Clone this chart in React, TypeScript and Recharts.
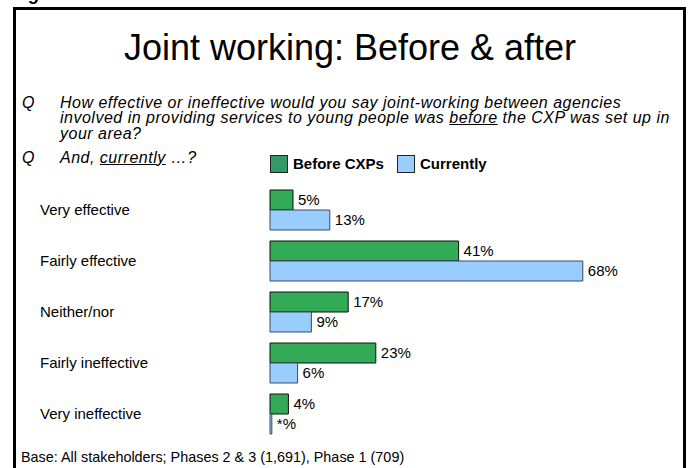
import { BarChart, Bar, XAxis, YAxis, LabelList } from 'recharts'

const categories = ['Very effective', 'Fairly effective', 'Neither/nor', 'Fairly ineffective', 'Very ineffective']
const beforeValues = [5, 41, 17, 23, 4]
// last "currently" value is shown as "*%" (less than 0.5%)
const currentValues = [13, 68, 9, 6, 0.4]
const seriesNames = ['Before CXPs', 'Currently']

const data = categories.map((name, i) => ({ name, before: beforeValues[i], current: currentValues[i] }))

const FONT = '"Liberation Sans", Arial, sans-serif'
const GREEN = '#33aa55'
const GREEN_KEY = '#339966'
const BLUE = '#99ccff'

const pct = (v: any) => (Number(v) < 1 ? '*%' : `${v}%`)

const qStyle = {
  position: 'absolute' as const,
  fontSize: 16,
  lineHeight: '15.5px',
  letterSpacing: '0.5px',
  fontStyle: 'italic',
  whiteSpace: 'nowrap' as const,
}

function CatTick({ y, payload }: any) {
  return (
    <text x={40} y={y} dy={5} fontSize={15} fontFamily={FONT} fill="#000" textAnchor="start">
      {payload.value}
    </text>
  )
}

function Key({ color, label, left }: { color: string; label: string; left: number }) {
  return (
    <div style={{ position: 'absolute', left, top: 155, display: 'flex', alignItems: 'center' }}>
      <div style={{ width: 16, height: 16, background: color, border: '1px solid #222' }} />
      <span style={{ marginLeft: 5, fontSize: 15, fontWeight: 'bold', lineHeight: '18px' }}>{label}</span>
    </div>
  )
}

export default function App() {
  return (
    <div
      style={{
        position: 'absolute', left: 0, top: 0, width: 690, height: 468,
        overflow: 'hidden', background: '#fff', fontFamily: FONT, color: '#000',
      }}
    >
      <div style={{ position: 'absolute', left: 13, top: -16, fontSize: 18, fontWeight: 'bold', fontStyle: 'italic' }}>
        Figure 6
      </div>
      <div style={{ position: 'absolute', left: 13, top: 7, width: 667, height: 500, border: '3px solid #000' }} />

      <div style={{ position: 'absolute', left: 0, width: 700, top: 29.5, textAlign: 'center', fontSize: 36, lineHeight: '36px' }}>
        Joint working: Before &amp; after
      </div>

      <div style={{ ...qStyle, left: 22, top: 94.7 }}>Q</div>
      <div style={{ ...qStyle, left: 60, top: 94.7 }}>
        How effective or ineffective would you say joint-working between agencies<br />
        involved in providing services to young people was <u>before</u> the CXP was set up in<br />
        your area?
      </div>
      <div style={{ ...qStyle, left: 22, top: 149.7 }}>Q</div>
      <div style={{ ...qStyle, left: 60, top: 149.7 }}>
        And, <u>currently</u> …?
      </div>

      <Key color={GREEN_KEY} label={seriesNames[0]} left={270} />
      <Key color={BLUE} label={seriesNames[1]} left={397} />

      <div style={{ position: 'absolute', left: 0, top: 140 }}>
        <BarChart
          width={690}
          height={320}
          data={data}
          layout="vertical"
          margin={{ top: 44, right: 6, bottom: 21, left: 0 }}
          barGap={0}
          barSize={20}
        >
          <XAxis type="number" domain={[0, 90]} hide />
          <YAxis
            type="category"
            dataKey="name"
            width={270}
            axisLine={false}
            tickLine={false}
            interval={0}
            tick={<CatTick />}
          />
          <Bar dataKey="before" name={seriesNames[0]} fill={GREEN} stroke="#111" strokeWidth={1} isAnimationActive={false}>
            <LabelList dataKey="before" position="right" offset={5} formatter={pct} fontSize={15} fontFamily={FONT} fill="#000" />
          </Bar>
          <Bar dataKey="current" name={seriesNames[1]} fill={BLUE} stroke="#3a4a5a" strokeWidth={1} isAnimationActive={false}>
            <LabelList dataKey="current" position="right" offset={5} formatter={pct} fontSize={15} fontFamily={FONT} fill="#000" />
          </Bar>
        </BarChart>
      </div>

      <div style={{ position: 'absolute', left: 21, top: 449, fontSize: 14.4, lineHeight: '16px', whiteSpace: 'nowrap' }}>
        Base: All stakeholders; Phases 2 &amp; 3 (1,691), Phase 1 (709)
      </div>
    </div>
  )
}
